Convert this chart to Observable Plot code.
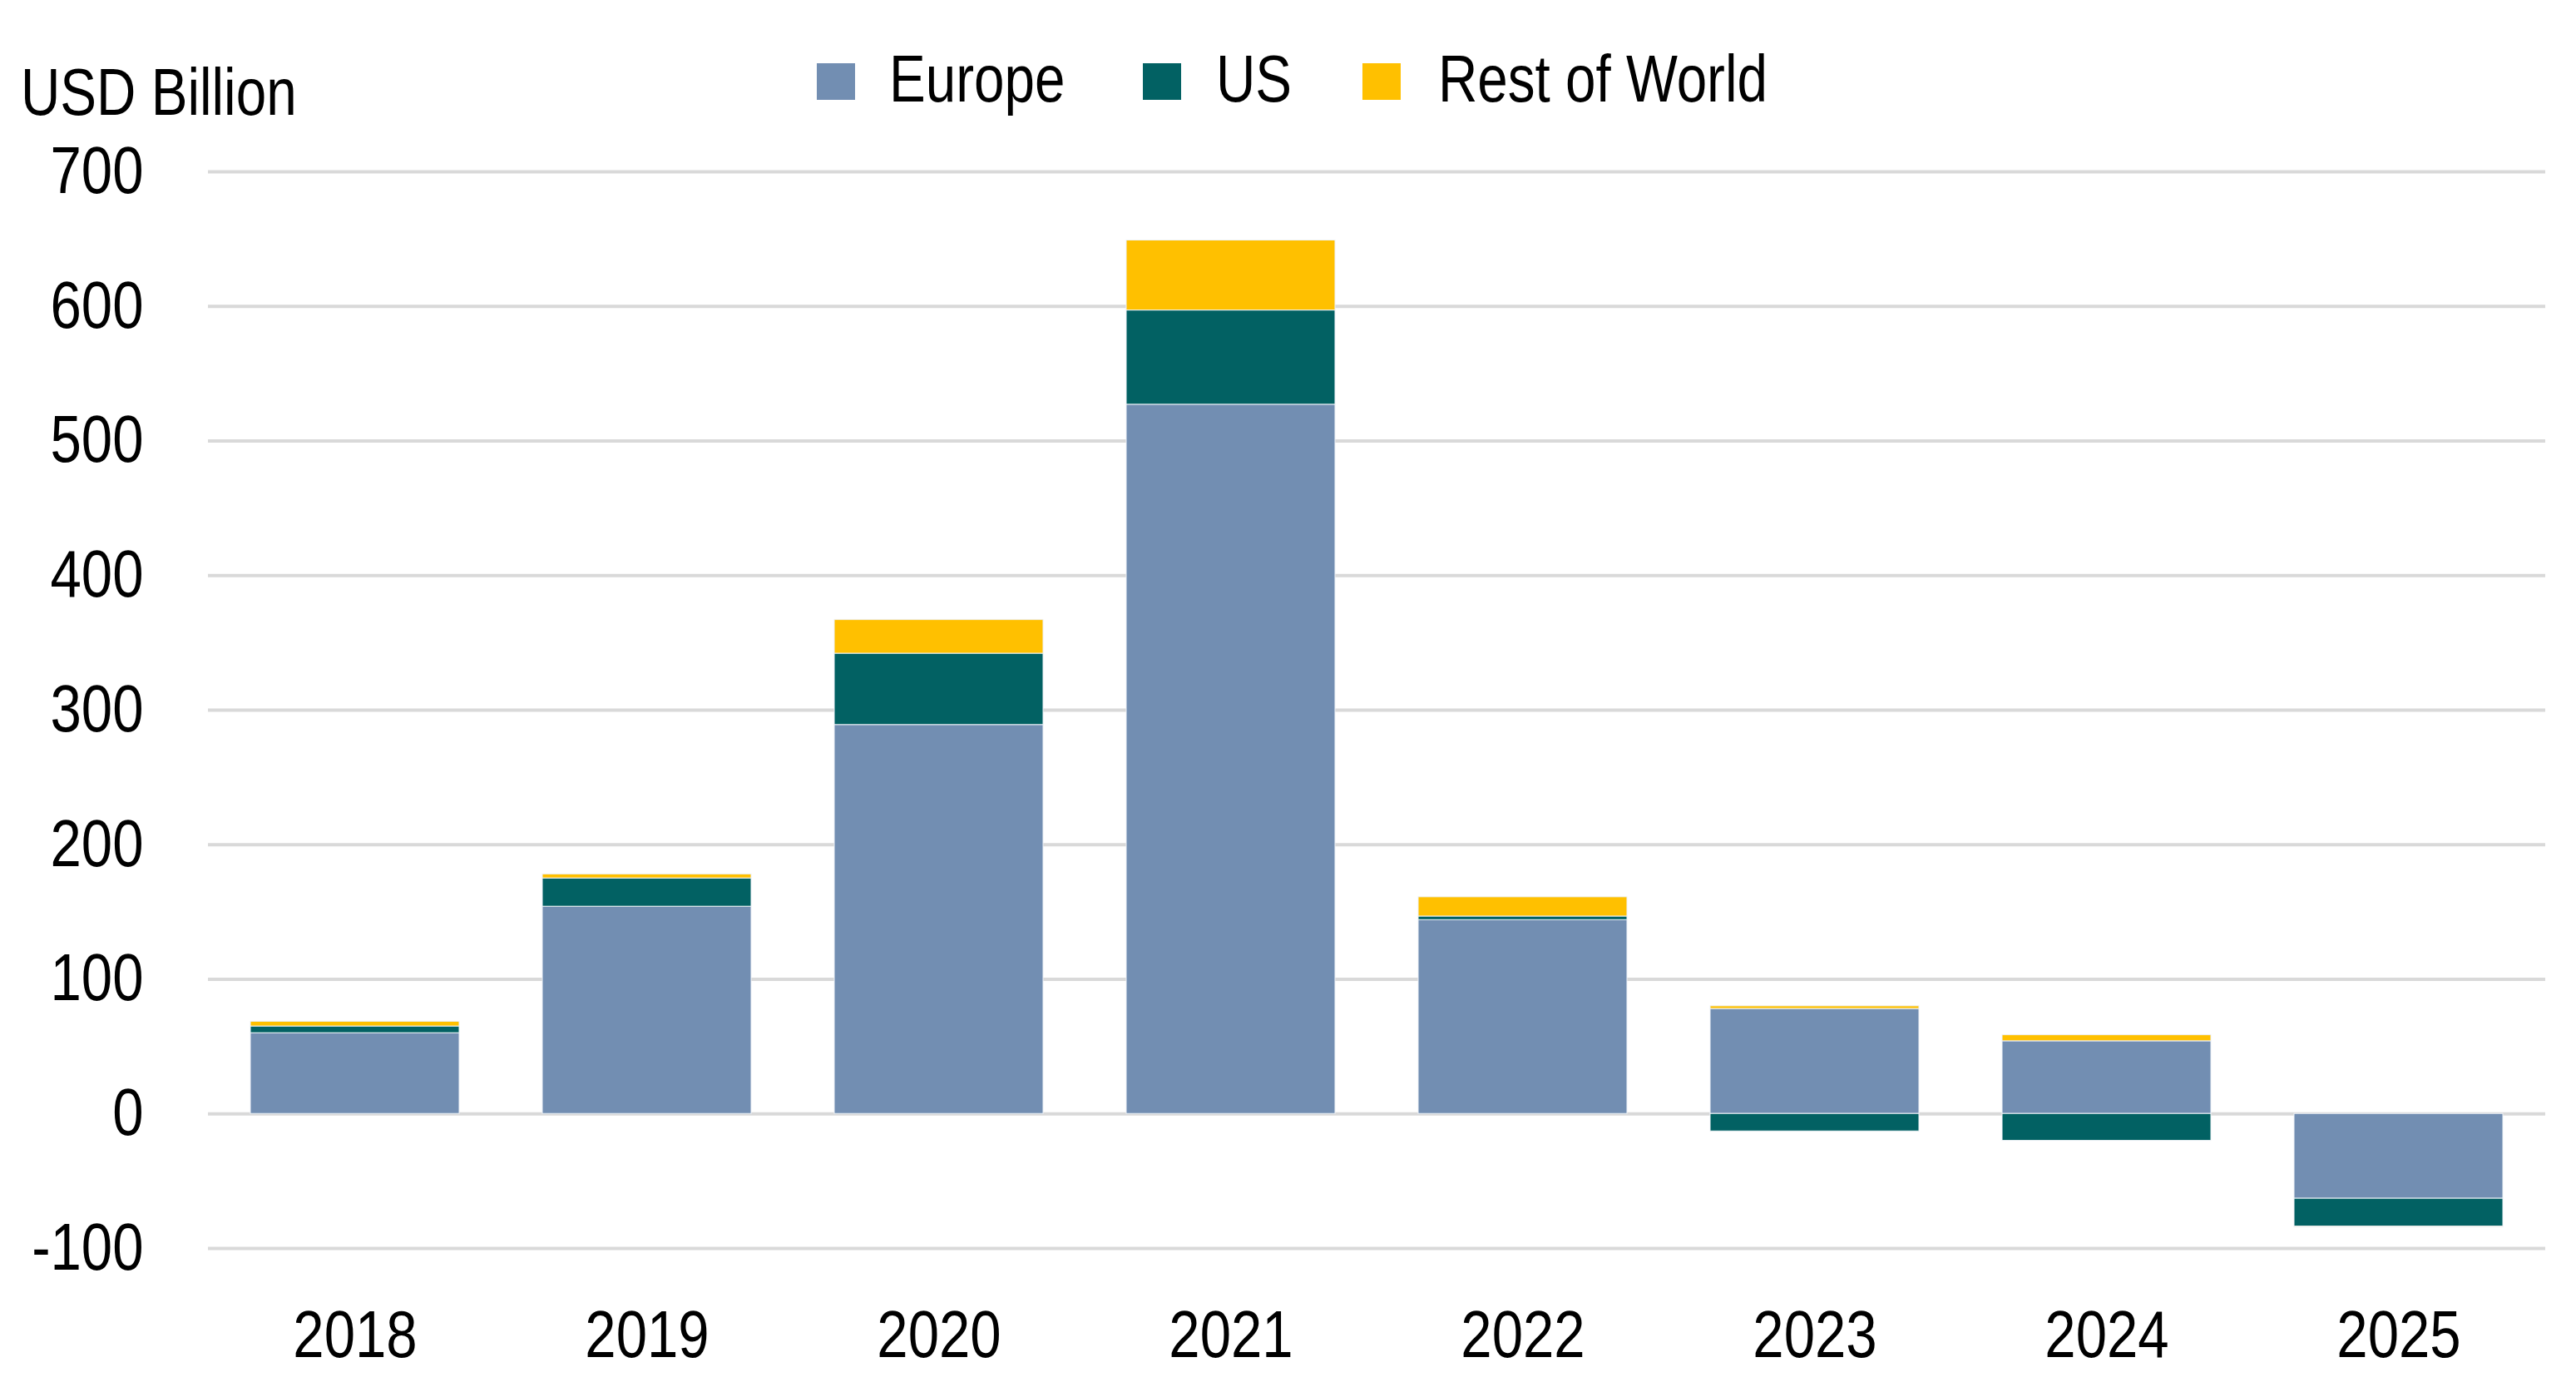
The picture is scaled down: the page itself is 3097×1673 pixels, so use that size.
<!DOCTYPE html>
<html>
<head>
<meta charset="utf-8">
<script src="https://cdn.jsdelivr.net/npm/d3@7"></script>
<script src="https://cdn.jsdelivr.net/npm/@observablehq/plot@0.6"></script>
<style>
  html, body { margin: 0; padding: 0; background: #fff; }
  #wrap { position: relative; width: 3097px; height: 1673px; font-family: "Liberation Sans", Arial, sans-serif; color: #000; }
  #wrap svg.plot { position: absolute; left: 0; top: 0; }
  .hdr { position: absolute; font-size: 79px; line-height: 1; white-space: nowrap; transform: scaleX(0.83); transform-origin: 0 0; }
  .sw { position: absolute; width: 46px; height: 44px; }
</style>
</head>
<body>
<div id="wrap"></div>
<script>
const years = ["2018", "2019", "2020", "2021", "2022", "2023", "2024", "2025"];
const europe = [60, 154, 289, 527, 144, 78, 54, -63];
const us = [5, 21, 53, 70, 2.7, -13, -20, -20.7];
const restOfWorld = [3.5, 3, 25, 52, 14.3, 2, 4.5, -0.5];
const seriesNames = ["Europe", "US", "Rest of World"];
const seriesColors = ["#728eb2", "#026163", "#ffc000"];
const yTicks = [-100, 0, 100, 200, 300, 400, 500, 600, 700];

const values = [europe, us, restOfWorld];
const data = [];
years.forEach((yr, i) => {
  seriesNames.forEach((s, j) => data.push({year: yr, series: s, value: values[j][i]}));
});

const font = '"Liberation Sans", Arial, sans-serif';

const chart = Plot.plot({
  width: 3097,
  height: 1673,
  marginLeft: 250,
  marginRight: 37,
  marginTop: 206,
  marginBottom: 173,
  style: {fontFamily: font, fontSize: "79px", color: "#000", background: "transparent"},
  x: {domain: years, paddingInner: 0.285, paddingOuter: 0.1425, label: null, tickSize: 0, tickPadding: 74},
  y: {domain: [-100, 700], ticks: yTicks, label: null, tickSize: 0, tickPadding: 78, tickFormat: d => String(d)},
  color: {domain: seriesNames, range: seriesColors},
  marks: [
    Plot.gridY(yTicks, {stroke: "#d9d9d9", strokeOpacity: 1, strokeWidth: 4}),
    Plot.barY(data, {x: "year", y: "value", fill: "series", stroke: "#eef2f7", strokeWidth: 1, order: seriesNames}),
    Plot.axisX({tickSize: 0, tickPadding: 74, fontSize: 79}),
    Plot.axisY(yTicks, {tickSize: 0, tickPadding: 78, fontSize: 79, tickFormat: d => String(d)})
  ]
});
chart.classList.add("plot");
// condense the tick label glyphs horizontally around their anchor
chart.querySelectorAll("text").forEach(t => {
  const tr = t.getAttribute("transform") || "";
  t.setAttribute("transform", (tr + " scale(0.85,1)").trim());
});
const wrap = document.getElementById("wrap");
wrap.appendChild(chart);

// Header: unit label and legend (baseline-positioned)
function addText(txt, left, baseline) {
  const d = document.createElement("div");
  d.className = "hdr";
  d.textContent = txt;
  d.style.left = left + "px";
  d.style.top = (baseline - 67) + "px";
  wrap.appendChild(d);
}
addText("USD Billion", 25, 138);
const swX = [982, 1374, 1638];
const txX = [1069, 1462, 1729];
seriesNames.forEach((s, j) => {
  const sw = document.createElement("div");
  sw.className = "sw";
  sw.style.left = swX[j] + "px";
  sw.style.top = "76px";
  sw.style.background = seriesColors[j];
  wrap.appendChild(sw);
  addText(s, txX[j], 122);
});
</script>
</body>
</html>
